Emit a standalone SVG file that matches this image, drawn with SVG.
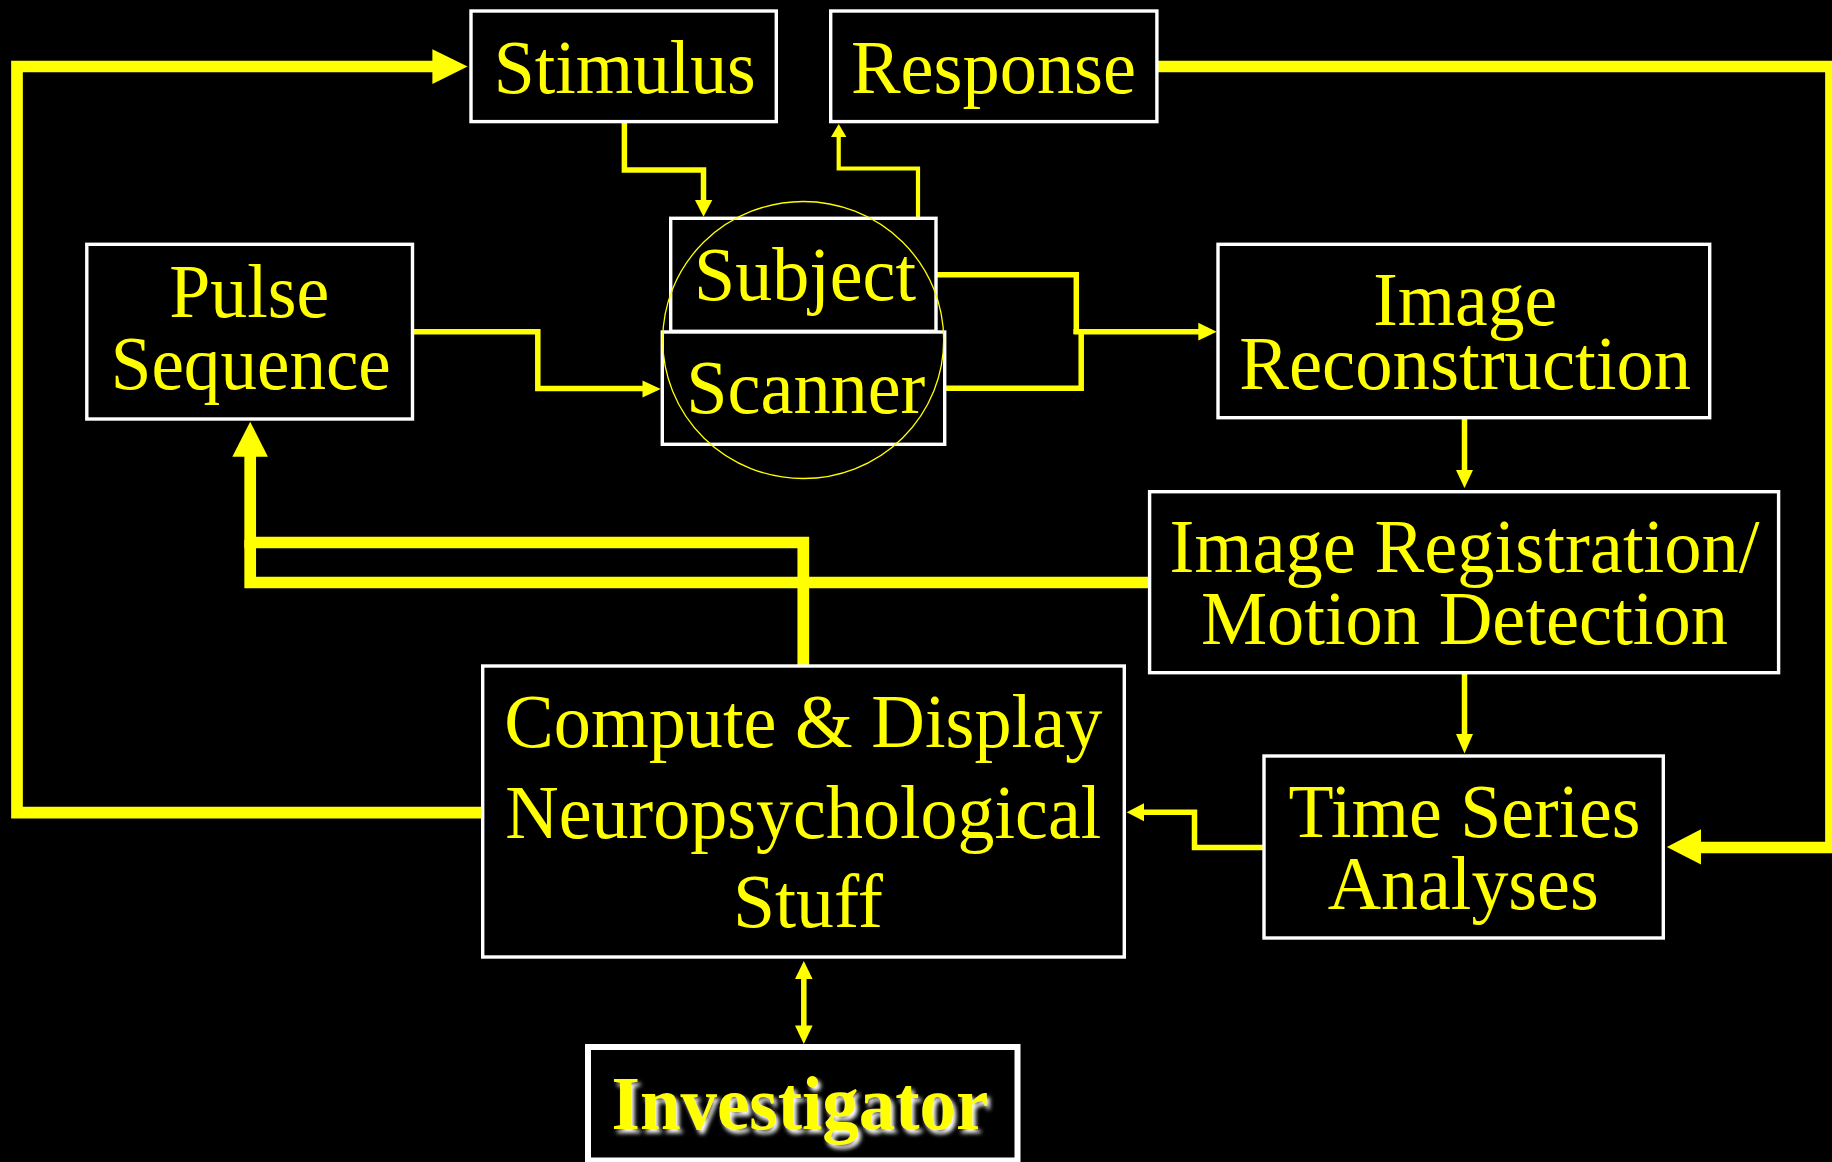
<svg xmlns="http://www.w3.org/2000/svg" width="1832" height="1162" viewBox="0 0 1832 1162">
<defs>
<style>
.box{fill:#000;stroke:#fff;stroke-width:3.4}
.t{font-family:"Liberation Serif","Times New Roman",serif;font-size:76px;fill:#ff0;text-anchor:middle}
.tb{font-family:"Liberation Serif","Times New Roman",serif;font-size:76px;font-weight:bold;fill:#ff0;text-anchor:middle}
.thick{fill:none;stroke:#ff0;stroke-width:11.7;stroke-linejoin:miter;stroke-linecap:butt}
.thin{fill:none;stroke:#ff0;stroke-width:5.5;stroke-linejoin:miter;stroke-linecap:butt}
.head{fill:#ff0}
</style>
<filter id="glow" x="-10%" y="-30%" width="120%" height="160%">
<feGaussianBlur in="SourceAlpha" stdDeviation="2"/>
<feOffset dx="3" dy="4" result="b"/>
<feFlood flood-color="#fff"/>
<feComposite in2="b" operator="in"/>
<feMerge><feMergeNode/><feMergeNode in="SourceGraphic"/></feMerge>
</filter>
</defs>
<rect x="0" y="0" width="1832" height="1162" fill="#000"/>

<g id="connectors">
<!-- Compute -> Stimulus loop -->
<path class="thick" d="M482 812.6 H17 V66.5 H434"/>
<polygon class="head" points="432.4,49.3 467.6,66.5 432.4,84"/>
<!-- Response -> Time Series loop -->
<path class="thick" d="M1158 66.5 H1831 V847.5 H1699"/>
<polygon class="head" points="1701,829.2 1666.8,847 1701,864.4"/>
<!-- Compute -> Pulse Sequence -->
<path class="thick" d="M803.3 666 V542.5 H250.2 V455"/>
<!-- Image Registration -> Pulse Sequence -->
<path class="thick" d="M1149 582.5 H250.2 V540"/>
<polygon class="head" points="232.3,456.7 250.2,421.7 267.9,456.7"/>
<!-- Stimulus -> Subject -->
<path class="thin" d="M624.4 123 V170 H703.5 V201"/>
<polygon class="head" points="695,200 703.5,216.7 712.3,200"/>
<!-- Subject -> Response -->
<path style="fill:none;stroke:#ff0;stroke-width:4.2" d="M918 217 V168.5 H838.7 V135"/>
<polygon class="head" points="831,137 838.7,124 846.4,137"/>
<!-- Subject/Scanner -> Image Reconstruction -->
<path class="thin" d="M936 274.8 H1076.3 V334"/>
<path class="thin" d="M944.7 388.2 H1081.2 V329"/>
<path class="thin" d="M1073.5 331.7 H1200"/>
<polygon class="head" points="1198.3,322.7 1216.7,331.7 1198.3,340.5"/>
<!-- Pulse Sequence -> Scanner -->
<path class="thin" d="M412.5 331.7 H537.8 V388.6 H645"/>
<polygon class="head" points="642.5,380.5 660.7,389 642.5,397.5"/>
<!-- Image Reconstruction -> Image Registration -->
<path class="thin" d="M1464.5 419 V472"/>
<polygon class="head" points="1456,470 1464.5,488 1473,470"/>
<!-- Image Registration -> Time Series -->
<path class="thin" d="M1464.5 673 V736"/>
<polygon class="head" points="1456,734 1464.5,753.5 1473,734"/>
<!-- Time Series -> Compute -->
<path class="thin" d="M1264 847.4 H1194.5 V812.3 H1142"/>
<polygon class="head" points="1144,803.3 1126.7,812.3 1144,821.3"/>
<!-- Compute <-> Investigator -->
<path class="thin" d="M803.8 977 V1027"/>
<polygon class="head" points="795,979 803.8,960.9 812.6,979"/>
<polygon class="head" points="795,1025.5 803.8,1044 812.6,1025.5"/>
</g>

<g id="stimulus">
<rect class="box" x="471" y="11" width="305.3" height="110.6"/>
<text class="t" x="624.8" y="93.3" textLength="262" lengthAdjust="spacingAndGlyphs">Stimulus</text>
</g>
<g id="response">
<rect class="box" x="830.7" y="11" width="326.2" height="110.6"/>
<text class="t" x="993.5" y="93.3" textLength="285" lengthAdjust="spacingAndGlyphs">Response</text>
</g>
<g id="subject">
<rect class="box" x="670.7" y="218.3" width="265.3" height="113"/>
<text class="t" x="805" y="300" textLength="222" lengthAdjust="spacingAndGlyphs">Subject</text>
</g>
<g id="scanner">
<rect class="box" x="662.3" y="332" width="282.4" height="112.3"/>
<text class="t" x="805.8" y="413.3" textLength="239" lengthAdjust="spacingAndGlyphs">Scanner</text>
</g>
<g id="scanner-circle">
<ellipse cx="803.2" cy="340" rx="140.5" ry="138.5" fill="none" stroke="#ff0" stroke-width="1.3"/>
</g>
<g id="pulse-sequence">
<rect class="box" x="86.8" y="244.3" width="325.7" height="174.7"/>
<text class="t" x="249.3" y="316.7" textLength="160" lengthAdjust="spacingAndGlyphs">Pulse</text>
<text class="t" x="250.8" y="389.3" textLength="280" lengthAdjust="spacingAndGlyphs">Sequence</text>
</g>
<g id="image-reconstruction">
<rect class="box" x="1218" y="244.3" width="491.7" height="173.4"/>
<text class="t" x="1465.2" y="325" textLength="184" lengthAdjust="spacingAndGlyphs">Image</text>
<text class="t" x="1465.2" y="389.3" textLength="452" lengthAdjust="spacingAndGlyphs">Reconstruction</text>
</g>
<g id="image-registration">
<rect class="box" x="1149.6" y="491.7" width="629" height="181"/>
<text class="t" x="1464.6" y="571.7" textLength="590" lengthAdjust="spacingAndGlyphs">Image Registration/</text>
<text class="t" x="1464.4" y="644.4" textLength="527" lengthAdjust="spacingAndGlyphs">Motion Detection</text>
</g>
<g id="time-series">
<rect class="box" x="1264" y="756" width="399.3" height="182"/>
<text class="t" x="1464.6" y="836.9" textLength="352" lengthAdjust="spacingAndGlyphs">Time Series</text>
<text class="t" x="1463.2" y="908.6" textLength="271" lengthAdjust="spacingAndGlyphs">Analyses</text>
</g>
<g id="compute-display">
<rect class="box" x="482.7" y="666" width="641.6" height="291"/>
<text class="t" x="803.3" y="747.4" textLength="598" lengthAdjust="spacingAndGlyphs">Compute &amp; Display</text>
<text class="t" x="803.3" y="838.2" textLength="596" lengthAdjust="spacingAndGlyphs">Neuropsychological</text>
<text class="t" x="808" y="926.8" textLength="150" lengthAdjust="spacingAndGlyphs">Stuff</text>
</g>
<g id="investigator">
<rect x="588" y="1047" width="429.5" height="113.5" fill="#000" stroke="#fff" stroke-width="6"/>
<text class="tb" x="800" y="1129" textLength="377" lengthAdjust="spacingAndGlyphs" filter="url(#glow)">Investigator</text>
</g>
</svg>
